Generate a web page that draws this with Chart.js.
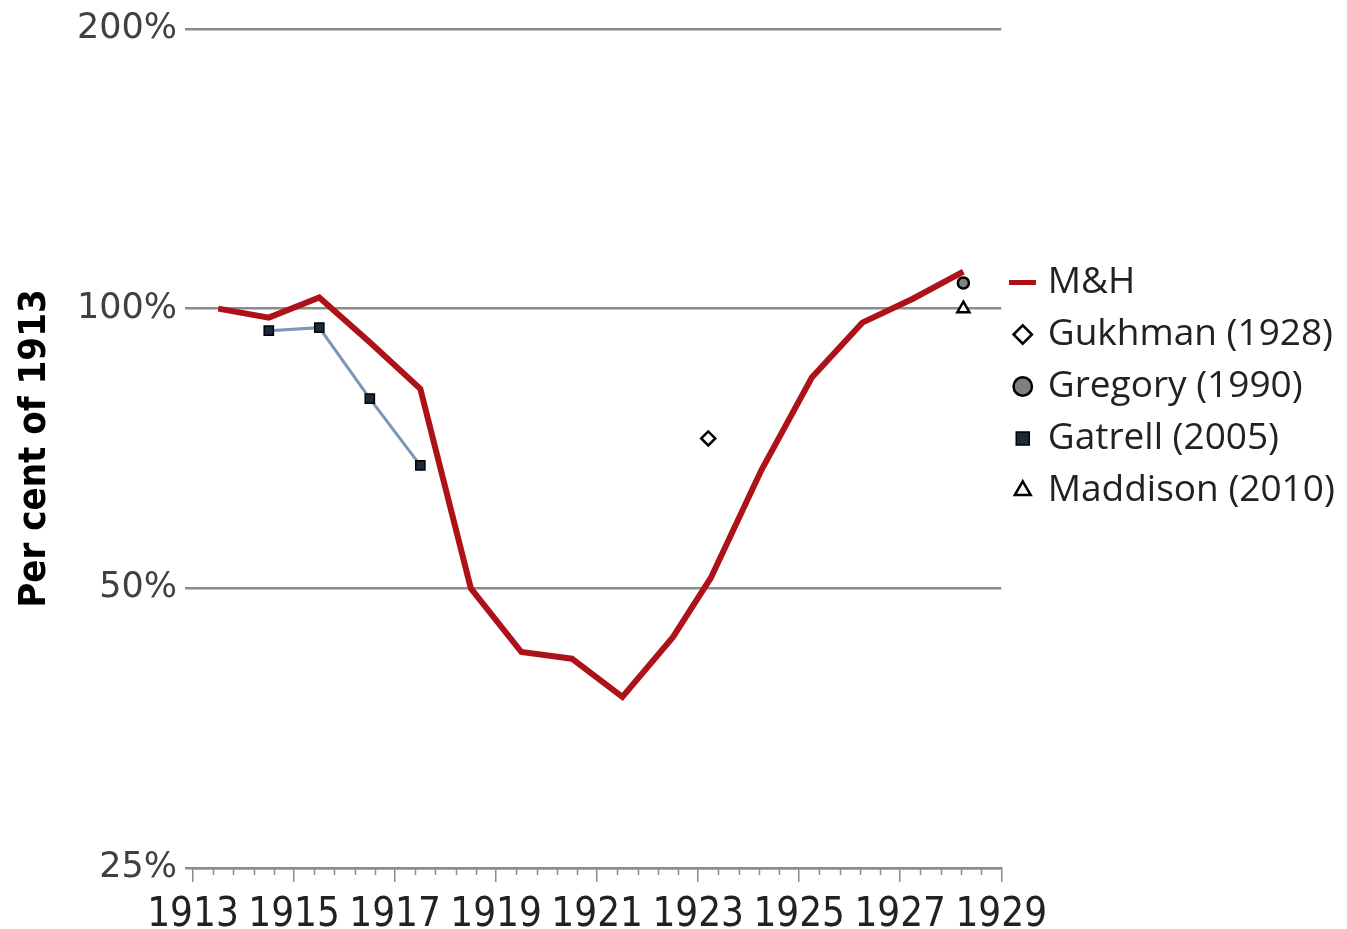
<!DOCTYPE html>
<html>
<head>
<meta charset="utf-8">
<script src="https://cdn.jsdelivr.net/npm/chart.js@4.4.1/dist/chart.umd.min.js"></script>
<style>
  html, body { margin: 0; padding: 0; background: #fff; }
</style>
</head>
<body>
<canvas id="chart" width="1347" height="929"></canvas>
<script>
// values (per cent of 1913, log scale)
const mhYears = [1913.5, 1914.5, 1915.5, 1916.5, 1917.5, 1918.5, 1919.5, 1920.5, 1921.5, 1922.5, 1923.25, 1924.25, 1925.25, 1926.25, 1927.25, 1928.25];
const mhValues = [100, 97.8, 102.8, 92, 82, 50, 42.7, 42.0, 38.2, 44.3, 51.3, 67, 84.3, 96.6, 102.5, 109.6];

const gatrellYears = [1914.5, 1915.5, 1916.5, 1917.5];
const gatrellValues = [94.7, 95.4, 80.0, 67.8];

const gukhmanYears = [1923.2];
const gukhmanValues = [72.5];

const gregoryYears = [1928.25];
const gregoryValues = [106.6];

const maddisonYears = [1928.25];
const maddisonValues = [100];

const yTicks = [25, 50, 100, 200];
const xFirst = 1913;
const xLast = 1929;
const xLabelStep = 2;
const xMinorStep = 0.4;

const axisGrey = '#8c8c8c';
const mhRed = '#ad1219';

function pairs(xs, ys) {
  return xs.map((x, i) => ({ x: x, y: ys[i] }));
}

function isMajor(v) {
  const r = Math.round(v);
  return Math.abs(v - r) < 1e-6 && (r - xFirst) % xLabelStep === 0;
}

// red dash used as the M&H legend marker
const mhMarker = document.createElement('canvas');
mhMarker.width = 27;
mhMarker.height = 5;
const mctx = mhMarker.getContext('2d');
mctx.fillStyle = mhRed;
mctx.fillRect(0, 0, 27, 5);

// short minor tick marks under the x axis
const minorTicks = {
  id: 'minorTicks',
  afterDraw(chart) {
    const xs = chart.scales.x;
    const ctx = chart.ctx;
    const y0 = chart.chartArea.bottom;
    ctx.save();
    ctx.strokeStyle = axisGrey;
    ctx.lineWidth = 1.5;
    xs.ticks.forEach(t => {
      if (isMajor(t.value)) return;
      const px = Math.round(xs.getPixelForValue(t.value)) + 0.5;
      ctx.beginPath();
      ctx.moveTo(px, y0);
      ctx.lineTo(px, y0 + 7);
      ctx.stroke();
    });
    ctx.restore();
  }
};

const ctx = document.getElementById('chart').getContext('2d');
const myChart = new Chart(ctx, {
  type: 'line',
  data: {
    datasets: [{
      label: 'M&H',
      data: pairs(mhYears, mhValues),
      borderColor: mhRed,
      backgroundColor: mhRed,
      borderWidth: 6,
      pointRadius: 0,
      pointStyle: mhMarker,
      tension: 0
    }, {
      label: 'Gukhman (1928)',
      data: pairs(gukhmanYears, gukhmanValues),
      showLine: false,
      pointStyle: 'rectRot',
      pointRadius: 7,
      pointBackgroundColor: '#fff',
      pointBorderColor: '#000',
      pointBorderWidth: 2.5
    }, {
      label: 'Gregory (1990)',
      data: pairs(gregoryYears, gregoryValues),
      showLine: false,
      pointStyle: 'circle',
      pointRadius: 5.5,
      pointBackgroundColor: '#808080',
      pointBorderColor: '#000',
      pointBorderWidth: 2.5
    }, {
      label: 'Gatrell (2005)',
      data: pairs(gatrellYears, gatrellValues),
      borderColor: '#7b96b9',
      borderWidth: 3,
      pointStyle: 'rect',
      pointRadius: 6.5,
      pointBackgroundColor: '#1c2b3a',
      pointBorderColor: '#000',
      pointBorderWidth: 1.5,
      tension: 0
    }, {
      label: 'Maddison (2010)',
      data: pairs(maddisonYears, maddisonValues),
      showLine: false,
      pointStyle: 'triangle',
      pointRadius: 7,
      pointBackgroundColor: '#fff',
      pointBorderColor: '#000',
      pointBorderWidth: 2.5
    }]
  },
  options: {
    responsive: false,
    animation: false,
    devicePixelRatio: 1,
    layout: { padding: { top: 27, right: 12, bottom: 0, left: 0 } },
    scales: {
      x: {
        type: 'linear',
        min: xFirst,
        max: xLast,
        afterBuildTicks: scale => {
          const t = [];
          const n = Math.round((xLast - xFirst) / xMinorStep);
          for (let k = 0; k <= n; k++) t.push({ value: +(xFirst + k * xMinorStep).toFixed(4) });
          scale.ticks = t;
        },
        afterFit: scale => { scale.height = 61; },
        ticks: {
          autoSkip: false,
          maxRotation: 0,
          padding: 14,
          color: '#222',
          font: { family: 'DejaVu Sans Condensed', size: 40, lineHeight: 1 },
          callback: v => isMajor(v) ? String(Math.round(v)) : ''
        },
        grid: {
          drawOnChartArea: false,
          drawTicks: true,
          tickLength: 14,
          lineWidth: 1.5,
          tickColor: c => (c.tick && isMajor(c.tick.value)) ? axisGrey : 'rgba(0,0,0,0)'
        },
        border: { display: true, color: axisGrey, width: 2.5 }
      },
      y: {
        type: 'logarithmic',
        min: 25,
        max: 200,
        afterBuildTicks: scale => {
          scale.ticks = yTicks.map(v => ({ value: v }));
        },
        afterFit: scale => { scale.width = 193; },
        ticks: {
          padding: 8,
          color: '#404040',
          font: { family: 'DejaVu Sans', size: 35 },
          callback: v => v + '%'
        },
        grid: {
          color: axisGrey,
          lineWidth: 2.5,
          drawTicks: true,
          tickLength: 8
        },
        border: { display: false },
        title: {
          display: true,
          text: 'Per cent of 1913',
          color: '#000',
          padding: { top: 12, bottom: 4 },
          font: { family: 'DejaVu Sans Condensed', size: 38, weight: 'bold' }
        }
      }
    },
    plugins: {
      tooltip: { enabled: false },
      legend: {
        position: 'right',
        align: 'start',
        title: {
          display: true,
          text: ' ',
          font: { size: 10, lineHeight: 1 },
          padding: { top: 0, bottom: 212 }
        },
        labels: {
          usePointStyle: true,
          boxWidth: 13,
          boxHeight: 13,
          padding: 15,
          color: '#222',
          font: { family: 'Open Sans', size: 37 }
        }
      }
    }
  },
  plugins: [minorTicks]
});
</script>
</body>
</html>
